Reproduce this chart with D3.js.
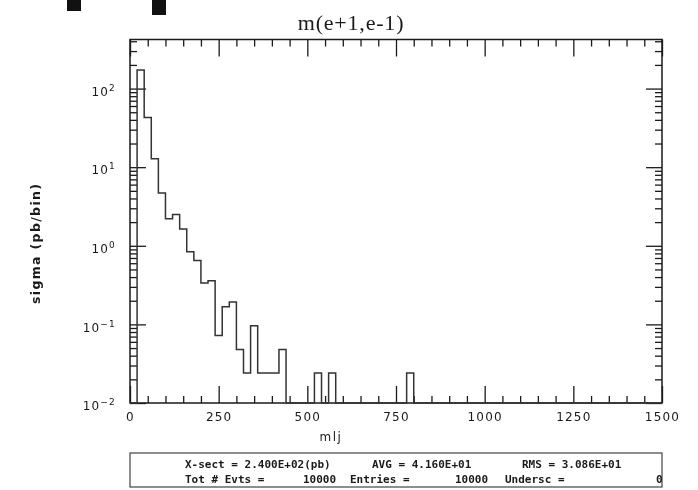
<!DOCTYPE html>
<html>
<head>
<meta charset="utf-8">
<script src="https://cdn.jsdelivr.net/npm/d3@7"></script>
<style>
body { margin: 0; background: #fff; }
svg { display: block; filter: blur(0.6px); }
</style>
</head>
<body>
<svg id="chart" width="698" height="490"></svg>
<script>
// chart text
const title = "m(e+1,e-1)";
const xLabel = "mlj";
const yLabel = "sigma (pb/bin)";

// histogram: 20 GeV bins, only non-empty bins listed (lower edge, pb/bin)
const binWidth = 20;
const binLow = [20, 40, 60, 80, 100, 120, 140, 160, 180, 200, 220, 240, 260, 280, 300, 320, 340, 360, 380, 400, 420, 520, 560, 780];
const sigma = [172, 43, 12.8, 4.7, 2.2, 2.5, 1.63, 0.84, 0.65, 0.336, 0.36, 0.072, 0.168, 0.192, 0.048, 0.024, 0.096, 0.024, 0.024, 0.024, 0.048, 0.024, 0.024, 0.024];

// axes
const xDomain = [0, 1500];
const yDomain = [0.01, 421];
const xMajorTicks = [0, 250, 500, 750, 1000, 1250, 1500];
const xMinorStep = 50;
const yMajorTicks = [1e-2, 1e-1, 1e0, 1e1, 1e2];
const yTickExp = ["\u22122", "\u22121", "0", "1", "2"];

// stats box
const statsLine1 = ["X-sect = 2.400E+02(pb)", "AVG = 4.160E+01", "RMS = 3.086E+01"];
const statsLine2 = ["Tot # Evts =", "10000", "Entries =", "10000", "Undersc =", "0"];

const svg = d3.select("#chart");
const plot = { left: 130, right: 662, top: 39.5, bottom: 403 };
const ink = "#1a1a1a";

const x = d3.scaleLinear().domain(xDomain).range([plot.left, plot.right]);
const y = d3.scaleLog().domain(yDomain).range([plot.bottom, plot.top]);

// cut-off fragments of text above the picture
svg.append("rect").attr("x", 67).attr("y", 0).attr("width", 14).attr("height", 11).attr("fill", "#111");
svg.append("rect").attr("x", 152).attr("y", 0).attr("width", 14).attr("height", 15).attr("fill", "#111");

// title
svg.append("text")
	.attr("x", 351)
	.attr("y", 30)
	.attr("text-anchor", "middle")
	.attr("font-family", "Liberation Serif, serif")
	.attr("font-size", 22)
	.attr("letter-spacing", "0.8px")
	.attr("fill", ink)
	.text(title);

// minor ticks
const xMinor = d3.range(xDomain[0], xDomain[1] + 1, xMinorStep).filter((v) => !xMajorTicks.includes(v));
const yMinor = [];
for (let e = -2; e <= 2; e++) {
	for (let k = 2; k <= 9; k++) {
		const v = k * Math.pow(10, e);
		if (v <= yDomain[1]) yMinor.push(v);
	}
}

function styleAxis(g) {
	g.select(".domain").remove();
	g.selectAll(".tick line").attr("stroke", ink).attr("stroke-width", 1.3);
	g.selectAll(".tick text")
		.attr("fill", ink)
		.attr("font-family", "DejaVu Sans, sans-serif")
		.attr("font-size", 12)
		.attr("letter-spacing", "1.2px");
}

// bottom axis
svg.append("g")
	.attr("transform", `translate(0,${plot.bottom})`)
	.call(d3.axisBottom(x).tickValues(xMajorTicks).tickSize(-17).tickPadding(9).tickFormat(d3.format("d")))
	.call(styleAxis);
svg.append("g")
	.attr("transform", `translate(0,${plot.bottom})`)
	.call(d3.axisBottom(x).tickValues(xMinor).tickSize(-7).tickFormat(""))
	.call(styleAxis);

// top axis
svg.append("g")
	.attr("transform", `translate(0,${plot.top})`)
	.call(d3.axisTop(x).tickValues(xMajorTicks).tickSize(-17).tickFormat(""))
	.call(styleAxis);
svg.append("g")
	.attr("transform", `translate(0,${plot.top})`)
	.call(d3.axisTop(x).tickValues(xMinor).tickSize(-7).tickFormat(""))
	.call(styleAxis);

// left axis with 10^n labels
const gy = svg.append("g")
	.attr("transform", `translate(${plot.left},0)`)
	.call(d3.axisLeft(y).tickValues(yMajorTicks).tickSize(-16).tickPadding(14))
	.call(styleAxis);
gy.selectAll(".tick text").each(function (d, i) {
	const t = d3.select(this);
	t.text(null).attr("dy", "0.55em");
	t.append("tspan").text("10");
	t.append("tspan").attr("dy", "-5").attr("font-size", 9).text(yTickExp[i]);
});
svg.append("g")
	.attr("transform", `translate(${plot.left},0)`)
	.call(d3.axisLeft(y).tickValues(yMinor).tickSize(-7).tickFormat(""))
	.call(styleAxis);

// right axis
svg.append("g")
	.attr("transform", `translate(${plot.right},0)`)
	.call(d3.axisRight(y).tickValues(yMajorTicks).tickSize(-16).tickFormat(""))
	.call(styleAxis);
svg.append("g")
	.attr("transform", `translate(${plot.right},0)`)
	.call(d3.axisRight(y).tickValues(yMinor).tickSize(-7).tickFormat(""))
	.call(styleAxis);

// frame
svg.append("rect")
	.attr("x", plot.left)
	.attr("y", plot.top)
	.attr("width", plot.right - plot.left)
	.attr("height", plot.bottom - plot.top)
	.attr("fill", "none")
	.attr("stroke", ink)
	.attr("stroke-width", 1.5);

// histogram as a step line, empty bins sit on the lower edge
const nBins = (xDomain[1] - xDomain[0]) / binWidth;
const bins = d3.range(nBins).map((i) => {
	const lo = xDomain[0] + i * binWidth;
	const j = binLow.indexOf(lo);
	return { lo, v: j < 0 ? 0 : sigma[j] };
});
const steps = bins.flatMap((b) => [[b.lo, b.v], [b.lo + binWidth, b.v]]);
const line = d3.line()
	.x((d) => x(d[0]))
	.y((d) => y(Math.max(d[1], yDomain[0])));

svg.append("path")
	.datum(steps)
	.attr("fill", "none")
	.attr("stroke", "#333")
	.attr("stroke-width", 1.5)
	.attr("d", line);

// axis titles
svg.append("text")
	.attr("x", 331)
	.attr("y", 441)
	.attr("text-anchor", "middle")
	.attr("font-family", "DejaVu Sans, sans-serif")
	.attr("font-size", 12)
	.attr("letter-spacing", "1.5px")
	.attr("fill", ink)
	.text(xLabel);

svg.append("text")
	.attr("transform", "translate(40,244) rotate(-90)")
	.attr("text-anchor", "middle")
	.attr("font-family", "DejaVu Sans, sans-serif")
	.attr("font-size", 12.5)
	.attr("font-weight", "bold")
	.attr("textLength", 120)
	.attr("lengthAdjust", "spacing")
	.attr("fill", ink)
	.text(yLabel);

// stats box
svg.append("rect")
	.attr("x", plot.left)
	.attr("y", 453)
	.attr("width", plot.right - plot.left)
	.attr("height", 34)
	.attr("fill", "none")
	.attr("stroke", "#444")
	.attr("stroke-width", 1.2);

const line1X = [185, 372, 522];
const line2X = [185, 303, 350, 455, 505, 656];
const stats = svg.append("g")
	.attr("font-family", "DejaVu Sans Mono, monospace")
	.attr("font-size", 11)
	.attr("font-weight", "bold")
	.attr("fill", ink);
stats.selectAll(".s1").data(statsLine1).join("text")
	.attr("x", (d, i) => line1X[i])
	.attr("y", 468)
	.text((d) => d);
stats.selectAll(".s2").data(statsLine2).join("text")
	.attr("x", (d, i) => line2X[i])
	.attr("y", 483)
	.text((d) => d);
</script>
</body>
</html>
